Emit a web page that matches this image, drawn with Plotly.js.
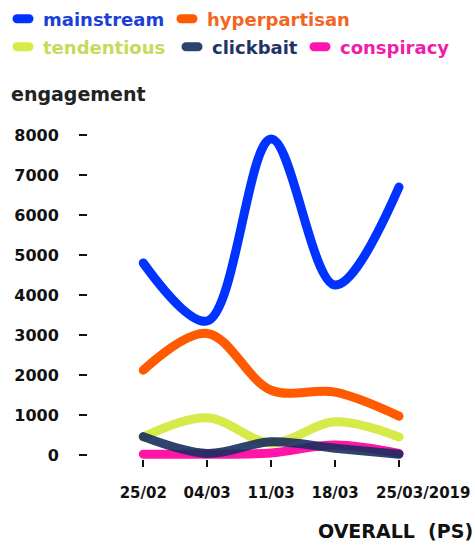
<!DOCTYPE html>
<html>
<head>
<meta charset="utf-8">
<script src="https://cdn.plot.ly/plotly-3.0.1.min.js"></script>
<style>
html,body{margin:0;padding:0;background:#fff;}
#chart{width:475px;height:545px;}
.scatterlayer path.js-line { stroke-linecap: round; }
.legendlines path { stroke-linecap: round; d: path("M14,0h12"); }
</style>
</head>
<body>
<div id="chart"></div>
<script>
const dates = ["25/02", "04/03", "11/03", "18/03", "25/03/2019"];
const seriesNames = ["mainstream", "hyperpartisan", "tendentious", "clickbait", "conspiracy"];
const mainstream = [4800, 3350, 7900, 4250, 6700];
const hyperpartisan = [2120, 3040, 1620, 1570, 970];
const tendentious = [450, 930, 300, 830, 450];
const clickbait = [460, 40, 330, 170, 20];
const conspiracy = [20, 20, 50, 250, 40];
const colors = ["#0033ff", "#ff5a00", "#d6ea4a", "#1a2d5e", "#ff16a8"];
const textColors = ["#1b3fd8", "#f26522", "#c9d95a", "#1e3466", "#f21cab"];

const values = [mainstream, hyperpartisan, tendentious, clickbait, conspiracy];
const drawOrder = [0, 1, 2, 4, 3];
const legendIds = ["legend", "legend2", "legend3", "legend4", "legend5"];
const xIdx = dates.map((d, i) => i);
const last = dates.length - 1;
// the last (long) date label is left-aligned from its tick, drawn as an annotation
const tickLabels = dates.map((d, i) => i === last ? "" : d);

const traces = drawOrder.map(i => ({
  type: "scatter",
  mode: "lines",
  x: xIdx,
  y: values[i],
  name: '<span style="color:' + textColors[i] + '">' + seriesNames[i] + '</span>',
  legend: legendIds[i],
  line: {color: colors[i], width: 9, shape: "spline", smoothing: 1},
  opacity: i === 3 ? 0.9 : 1,
  hoverinfo: "x+y"
}));

const font = "DejaVu Sans, sans-serif";
const W = 475, H = 545;
const M = {l: 88, r: 38, t: 120, b: 86};
const PW = W - M.l - M.r, PH = H - M.t - M.b;
const px2x = px => (px - M.l) / PW;
const py2y = py => (H - M.b - py) / PH;
// legend entry text starts (px) and row centers (px)
const legendPos = [[43, 19], [207, 19], [43, 47], [212, 47], [340, 47]];

const layout = {
  width: W,
  height: H,
  margin: M,
  paper_bgcolor: "#ffffff",
  plot_bgcolor: "#ffffff",
  showlegend: true,
  xaxis: {
    type: "linear",
    range: [-0.864, 4.594],
    tickmode: "array",
    tickvals: xIdx,
    ticktext: tickLabels,
    tickangle: 0,
    ticklabeloverflow: "allow",
    showgrid: false,
    zeroline: false,
    showline: false,
    ticks: "outside",
    ticklen: 7,
    tickwidth: 2,
    tickcolor: "#111",
    ticklabelstandoff: 13,
    tickfont: {family: font, size: 15, color: "#111", weight: "bold"},
    fixedrange: true
  },
  yaxis: {
    range: [-100, 8375],
    tickmode: "array",
    tickvals: [0, 1000, 2000, 3000, 4000, 5000, 6000, 7000, 8000],
    showgrid: false,
    zeroline: false,
    showline: false,
    ticks: "outside",
    ticklen: 8,
    tickwidth: 2,
    tickcolor: "#111",
    ticklabelstandoff: 17,
    tickfont: {family: font, size: 16, color: "#111", weight: "bold"},
    fixedrange: true
  },
  annotations: [
    {text: "engagement", xref: "paper", yref: "paper", x: px2x(9), y: py2y(94),
     xanchor: "left", yanchor: "middle", showarrow: false,
     font: {family: font, size: 19, color: "#222", weight: "bold"}},
    {text: "OVERALL\u00A0\u00A0(PS)", xref: "paper", yref: "paper", x: px2x(316), y: py2y(531),
     xanchor: "left", yanchor: "middle", showarrow: false,
     font: {family: font, size: 19, color: "#111", weight: "bold"}},
    {text: dates[last], xref: "x", yref: "paper", x: last, xshift: -25, y: py2y(493),
     xanchor: "left", yanchor: "middle", showarrow: false,
     font: {family: font, size: 15, color: "#111", weight: "bold"}}
  ]
};

legendIds.forEach((id, i) => {
  layout[id] = {
    orientation: "h",
    xref: "container", yref: "container",
    x: (legendPos[i][0] - 40) / W,
    y: 1 - legendPos[i][1] / H,
    xanchor: "left", yanchor: "middle",
    bgcolor: "rgba(0,0,0,0)",
    font: {family: font, size: 18, color: "#222", weight: "bold"},
    itemwidth: 30
  };
});

Plotly.newPlot("chart", traces, layout, {displayModeBar: false, staticPlot: true});
</script>
</body>
</html>
